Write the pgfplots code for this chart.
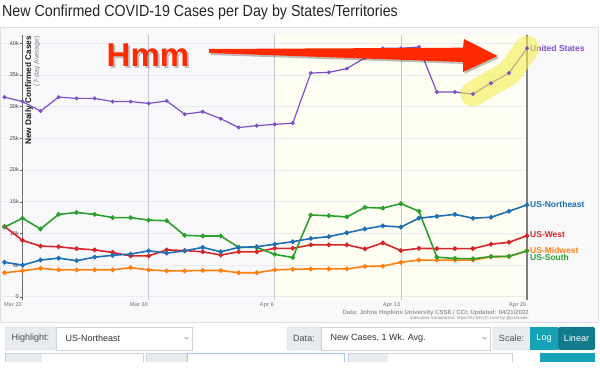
\documentclass[border=0pt]{standalone}
\usepackage{pgfplots}
\usepackage{pgfplotstable}
\pgfplotsset{compat=1.18}
\usepackage{fontspec}
\setmainfont{Liberation Sans}
\newfontfamily\titlefont[FakeStretch=0.89]{Liberation Sans}

\definecolor{cUS}{HTML}{7E4FC6}
\definecolor{cNE}{HTML}{1F6FB4}
\definecolor{cW}{HTML}{D62728}
\definecolor{cMW}{HTML}{FF7F0E}
\definecolor{cS}{HTML}{2CA02C}
\definecolor{panelbg}{HTML}{F9F9FC}
\definecolor{yellowbg}{HTML}{FEFEF3}
\definecolor{gridc}{HTML}{EAEAF0}
\definecolor{vgrid}{HTML}{C8C8CC}
\definecolor{axisdark}{HTML}{6E6E6E}
\definecolor{tickgray}{HTML}{9A9A9A}
\definecolor{hmmred}{HTML}{FF2A00}
\definecolor{hl}{HTML}{F4EE50}
\definecolor{ctlgray}{HTML}{E9ECEF}
\definecolor{ctlborder}{HTML}{CED4DA}
\definecolor{ctltext}{HTML}{495057}
\definecolor{teal1}{HTML}{17A2B8}
\definecolor{teal2}{HTML}{117A8B}
\definecolor{focusblue}{HTML}{9EC5FE}

\pgfplotstableread{
x   us    ne    w     mw    s
-1  31.5  5.45  11.1  3.8   11.0
0   30.8  5.0   8.9   4.1   12.4
1   29.3  5.8   8.0   4.5   10.7
2   31.5  6.1   7.9   4.25  13.0
3   31.3  5.7   7.6   4.25  13.3
4   31.3  6.25  7.4   4.25  13.0
5   30.8  6.55  7.0   4.25  12.5
6   30.8  6.75  6.45  4.6   12.5
7   30.5  7.25  6.45  4.25  12.1
8   30.9  6.9   7.4   4.1   12.0
9   28.8  7.25  7.3   4.1   9.7
10  29.2  7.8   7.1   4.15  9.6
11  28.1  7.1   6.6   4.15  9.6
12  26.7  7.8   7.1   3.8   7.8
13  27.0  7.9   7.1   3.8   7.8
14  27.2  8.3   7.65  4.25  6.7
15  27.4  8.7   7.65  4.35  6.2
16  35.3  9.2   8.2   4.4   12.9
17  35.4  9.5   8.2   4.4   12.8
18  36.0  10.1  8.2   4.4   12.6
19  37.7  10.7  7.55  4.8   14.1
20  39.2  11.2  8.5   4.85  14.0
21  39.2  11.0  7.3   5.45  14.7
22  39.4  12.4  7.65  5.8   13.5
23  32.3  12.7  7.6   5.8   6.25
24  32.3  13.0  7.6   5.8   6.05
25  32.0  12.4  7.6   5.8   6.0
26  33.7  12.55 8.3   6.3   6.35
27  35.3  13.5  8.6   6.35  6.4
28  39.2  14.5  9.65  7.25  7.25
}\datatable

\begin{document}
\begin{tikzpicture}
\useasboundingbox (0,0) rectangle (600pt,390pt);
\fill[white] (0,0) rectangle (600pt,390pt);
\begin{scope}[x=1pt,y=-1pt,shift={(0pt,390pt)}]
  % title
  \node[anchor=west, inner sep=0pt, font=\titlefont\fontsize{16}{18}\selectfont, text=black!85] at (2,12) {New Confirmed COVID-19 Cases per Day by States/Territories};
  % panel
  \draw[draw=black!12, fill=panelbg] (0.5,27) rectangle (598,322);
  \fill[yellowbg] (274.8,35) rectangle (527,300);
  % source
  \node[anchor=east, inner sep=0pt, font=\bfseries\fontsize{6.0}{7}\selectfont, text=black!40] at (529,312.5) {Data: Johns Hopkins University CSSE / CCI; Updated: 04/21/2022};
  \node[anchor=east, inner sep=0pt, font=\fontsize{4.2}{5}\selectfont, text=black!45] at (529,318.8) {Interactive Visualization: https://91-DIVOC.com/ by @profwade.};
  % controls row 1
  \draw[ctlborder, fill=ctlgray, rounded corners=2pt] (5,327) rectangle (56,350);
  \draw[ctlborder, fill=white] (56,327) rectangle (192,350);
  \node[font=\fontsize{9}{10}\selectfont, text=ctltext] at (30.5,338.5) {Highlight:};
  \node[anchor=west, font=\fontsize{9}{10}\selectfont, text=black!80] at (62,338.5) {US-Northeast};
  \draw[black!45, line width=0.5pt] (184.5,337) -- (186.5,339) -- (188.5,337);
  \draw[ctlborder, fill=ctlgray, rounded corners=2pt] (287,327) rectangle (321,350);
  \draw[ctlborder, fill=white] (321,327) rectangle (490,350);
  \node[font=\fontsize{9}{10}\selectfont, text=ctltext] at (304,338.5) {Data:};
  \node[anchor=west, font=\fontsize{9}{10}\selectfont, text=black!80] at (327,338.5) {New Cases, 1 Wk. Avg.};
  \draw[black!45, line width=0.5pt] (482.5,337) -- (484.5,339) -- (486.5,337);
  \draw[ctlborder, fill=ctlgray, rounded corners=2pt] (493,327) rectangle (530,350);
  \node[font=\fontsize{9}{10}\selectfont, text=ctltext] at (511.5,338.5) {Scale:};
  \fill[teal1] (530,327) rectangle (558,350);
  \fill[teal2, rounded corners=2pt] (558,327) rectangle (595,350);
  \node[font=\fontsize{9}{10}\selectfont, text=white] at (544,338.5) {Log};
  \node[font=\fontsize{9}{10}\selectfont, text=white] at (576.5,338.5) {Linear};
  % controls row 2 (partially visible)
  \fill[ctlgray] (5,353) rectangle (42,362);
  \draw[ctlborder] (5,362) -- (5,353) -- (42,353);
  \fill[white] (42,353) rectangle (143,362);
  \draw[ctlborder] (42,353) -- (143,353) -- (143,362);
  \fill[ctlgray] (146,353) rectangle (187,362);
  \draw[ctlborder] (146,362) -- (146,353) -- (187,353);
  \fill[white] (187,353) rectangle (344,362);
  \draw[focusblue, line width=0.8pt] (187,362) -- (187,353) -- (344,353) -- (344,362);
  \fill[ctlgray] (348,353) rectangle (388,362);
  \draw[ctlborder] (348,362) -- (348,353) -- (388,353);
  \fill[white] (388,353) rectangle (512,362);
  \draw[ctlborder] (388,353) -- (512,353) -- (512,362);
  \fill[teal1] (540,353) rectangle (595,362);
\end{scope}

\begin{axis}[
  at={(0pt,90pt)}, anchor=south west, scale only axis,
  width=527pt, height=265pt,
  xmin=-1.25, xmax=28, ymin=-0.5, ymax=41.3,
  clip=false, axis line style={draw=none}, major tick length=0pt,
  xtick={0,7,14,21,28}, xticklabels={Mar 23,Mar 30,Apr 6,Apr 13,Apr 20},
  ytick={0,5,10,15,20,25,30,35,40},
  yticklabels={0,5k,10k,15k,20k,25k,30k,35k,40k},
  ymajorgrids, grid style={gridc, line width=0.7pt},
  xticklabel style={anchor=north east, inner sep=0pt, xshift=-0.5pt, yshift=-2pt, font=\bfseries\fontsize{5.6}{6}\selectfont, text=tickgray},
  yticklabel style={anchor=east, inner sep=0pt, xshift=19pt, font=\fontsize{5.5}{6}\selectfont, text=black!75},
  every axis plot/.append style={line width=1.6pt, mark=*, mark size=1.5pt},
]
  % vertical grid
  \draw[vgrid, line width=0.6pt] (axis cs:7,-0.5) -- (axis cs:7,41.3);
  \draw[vgrid, line width=0.6pt] (axis cs:14,-0.5) -- (axis cs:14,41.3);
  \draw[vgrid, line width=0.6pt] (axis cs:21,-0.5) -- (axis cs:21,41.3);
  \draw[black!50, line width=1.1pt] (axis cs:28,-0.5) -- (axis cs:28,41.3);
  \draw[axisdark, line width=0.9pt] (axis cs:0,-0.5) -- (axis cs:0,41.3);
  \pgfplotsinvokeforeach{0,5,10,15,20,25,30,35,40}{
    \draw[black!60, line width=0.4pt] (axis cs:0,#1) -- ++(-2.5pt,0pt);
  }
  \addplot[color=cMW, mark options={fill=cMW}] table[x=x, y=mw] {\datatable};
  \addplot[color=cW, mark options={fill=cW}] table[x=x, y=w] {\datatable};
  \addplot[color=cS, mark options={fill=cS}] table[x=x, y=s] {\datatable};
  \addplot[color=cNE, mark options={fill=cNE}] table[x=x, y=ne] {\datatable};
  \addplot[color=cUS, line width=1.2pt, mark size=1.3pt, mark options={fill=cUS}] table[x=x, y=us] {\datatable};
  % end labels
  \node[anchor=west, inner sep=0pt, xshift=3pt, text=cUS, font=\bfseries\fontsize{8.5}{9}\selectfont] at (axis cs:28,39.2) {United States};
  \node[anchor=west, inner sep=0pt, xshift=3pt, text=cNE, font=\bfseries\fontsize{8.5}{9}\selectfont] at (axis cs:28,14.5) {US-Northeast};
  \node[anchor=west, inner sep=0pt, xshift=3pt, text=cW, font=\bfseries\fontsize{8.5}{9}\selectfont] at (axis cs:28,9.8) {US-West};
  \node[anchor=west, inner sep=0pt, xshift=3pt, text=cMW, font=\bfseries\fontsize{8.5}{9}\selectfont] at (axis cs:28,7.35) {US-Midwest};
  \node[anchor=west, inner sep=0pt, xshift=3pt, yshift=-6.5pt, text=cS, font=\bfseries\fontsize{8.5}{9}\selectfont] at (axis cs:28,7.25) {US-South};
  % highlighter
  \draw[hl, opacity=0.6, line width=25pt, line cap=round, line join=round] (axis cs:25,32.0) -- (axis cs:26,33.7) -- (axis cs:27,35.3) -- (axis cs:28,39.2);
\end{axis}

\begin{scope}[x=1pt,y=-1pt,shift={(0pt,390pt)}]
  % y axis title
  \node[rotate=90, anchor=east, inner sep=0pt, font=\bfseries\fontsize{8.2}{9}\selectfont, text=black!90] at (29,36) {New Daily Confirmed Cases};
  \node[rotate=90, anchor=east, inner sep=0pt, font=\fontsize{7}{8}\selectfont, text=black!50] at (37,36) {(7-day Average)};
  % arrow shadow and arrow
  \fill[black, opacity=0.25] (210.5,51) -- (464.5,49.7) -- (465.5,41) -- (499,58) -- (464.5,74) -- (464.5,64) -- (210.5,55) -- cycle;
  \fill[hmmred] (209,49) -- (463,47.7) -- (464,39) -- (497.5,56) -- (463,72) -- (463,62) -- (209,53) -- cycle;
  % Hmm text with soft shadow
  \node[font=\bfseries\fontsize{33}{36}\selectfont, text=black, opacity=0.22] at (150,57.5) {Hmm};
  \node[font=\bfseries\fontsize{33}{36}\selectfont, text=hmmred] at (148,55) {Hmm};
\end{scope}
\end{tikzpicture}
\end{document}
